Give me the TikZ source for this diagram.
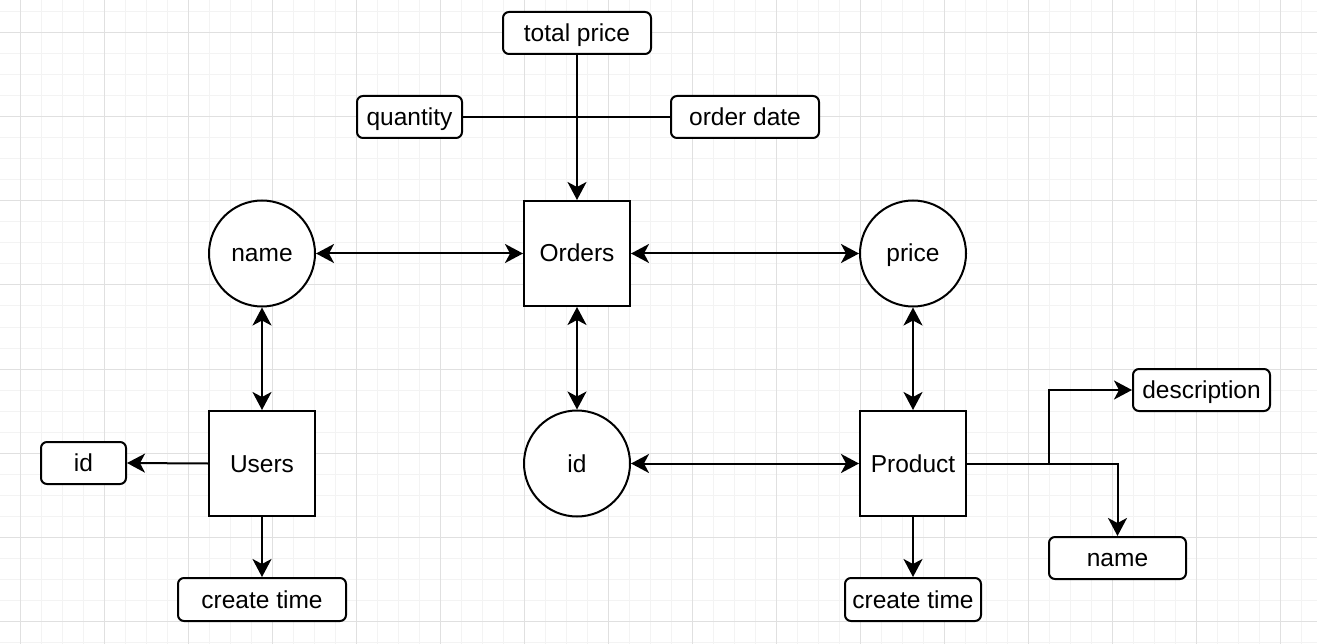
\documentclass[tikz,border=0pt]{standalone}
\usepackage{fontspec}
\setmainfont{Liberation Sans}
\usetikzlibrary{arrows.meta}
\definecolor{gridminor}{RGB}{243,243,243}
\definecolor{gridmajor}{RGB}{224,224,224}
\begin{document}
\begin{tikzpicture}[x=1pt,y=-1pt,
  every node/.style={font=\fontsize{24.5}{28}\selectfont, inner sep=0pt, text=black, text height=22pt, text depth=5pt},
  ent/.style={draw, line width=2pt, fill=white, minimum width=106pt, minimum height=105pt},
  att/.style={draw, line width=2pt, fill=white, rounded corners=6pt, minimum height=42pt},
  circ/.style={draw, circle, line width=2pt, fill=white, minimum size=106pt},
  conn/.style={line width=2pt, -{Stealth[length=18pt,width=19pt,inset=5pt]}},
  biconn/.style={line width=2pt, {Stealth[length=18pt,width=19pt,inset=5pt]}-{Stealth[length=18pt,width=19pt,inset=5pt]}},
  plain/.style={line width=2pt}]
\useasboundingbox (0,0) rectangle (1317,644);
\fill[white] (0,0) rectangle (1317,644);
% grid
\foreach \i in {-1,...,62} {\draw[gridminor, line width=1pt] ({20.7+21*\i},0) -- ({20.7+21*\i},644);}
\foreach \j in {-1,...,31} {\draw[gridminor, line width=1pt] (0,{12+21*\j}) -- (1317,{12+21*\j});}
\foreach \i in {0,...,15} {\draw[gridmajor, line width=1pt] ({20.7+84*\i},0) -- ({20.7+84*\i},644);}
\foreach \j in {0,...,7} {\draw[gridmajor, line width=1pt] (0,{33+84*\j}) -- (1317,{33+84*\j});}

% nodes
\node[att, minimum width=148pt] (tp) at (577,33) {total price};
\node[att, minimum width=105pt] (qty) at (409.5,117) {quantity};
\node[att, minimum width=148pt] (od) at (745,117) {order date};
\node[ent] (orders) at (577,253.5) {Orders};
\node[circ] (nameC) at (262,253.5) {name};
\node[circ] (priceC) at (913,253.5) {price};
\node[ent] (users) at (262,463.5) {Users};
\node[att, minimum width=85pt] (idL) at (83.5,463) {id};
\node[att, minimum width=168pt, minimum height=43pt] (ctL) at (262,599.5) {create time};
\node[circ] (idC) at (577,463.5) {id};
\node[ent] (product) at (913,463.5) {Product};
\node[att, minimum width=137pt] (desc) at (1201.5,390) {description};
\node[att, minimum width=137pt] (nameR) at (1117.5,558) {name};
\node[att, minimum width=136pt, minimum height=43pt] (ctR) at (913,599.5) {create time};
\coordinate (dbend) at (1049,463.5);

% connectors
\draw[plain] (qty.east) -- (od.west);
\draw[conn] (tp.south) -- (orders.north);
\draw[biconn] (nameC) -- (orders);
\draw[biconn] (orders) -- (priceC);
\draw[biconn] (nameC) -- (users);
\draw[biconn] (orders) -- (idC);
\draw[biconn] (priceC) -- (product);
\draw[biconn] (idC) -- (product);
\draw[conn] (users.west) -- (idL.east);
\draw[conn] (users.south) -- (ctL.north);
\draw[conn] (product.south) -- (ctR.north);
\draw[conn] (product.east) -- (dbend) |- (desc.west);
\draw[conn] (product.east) -| (nameR.north);
\end{tikzpicture}
\end{document}
